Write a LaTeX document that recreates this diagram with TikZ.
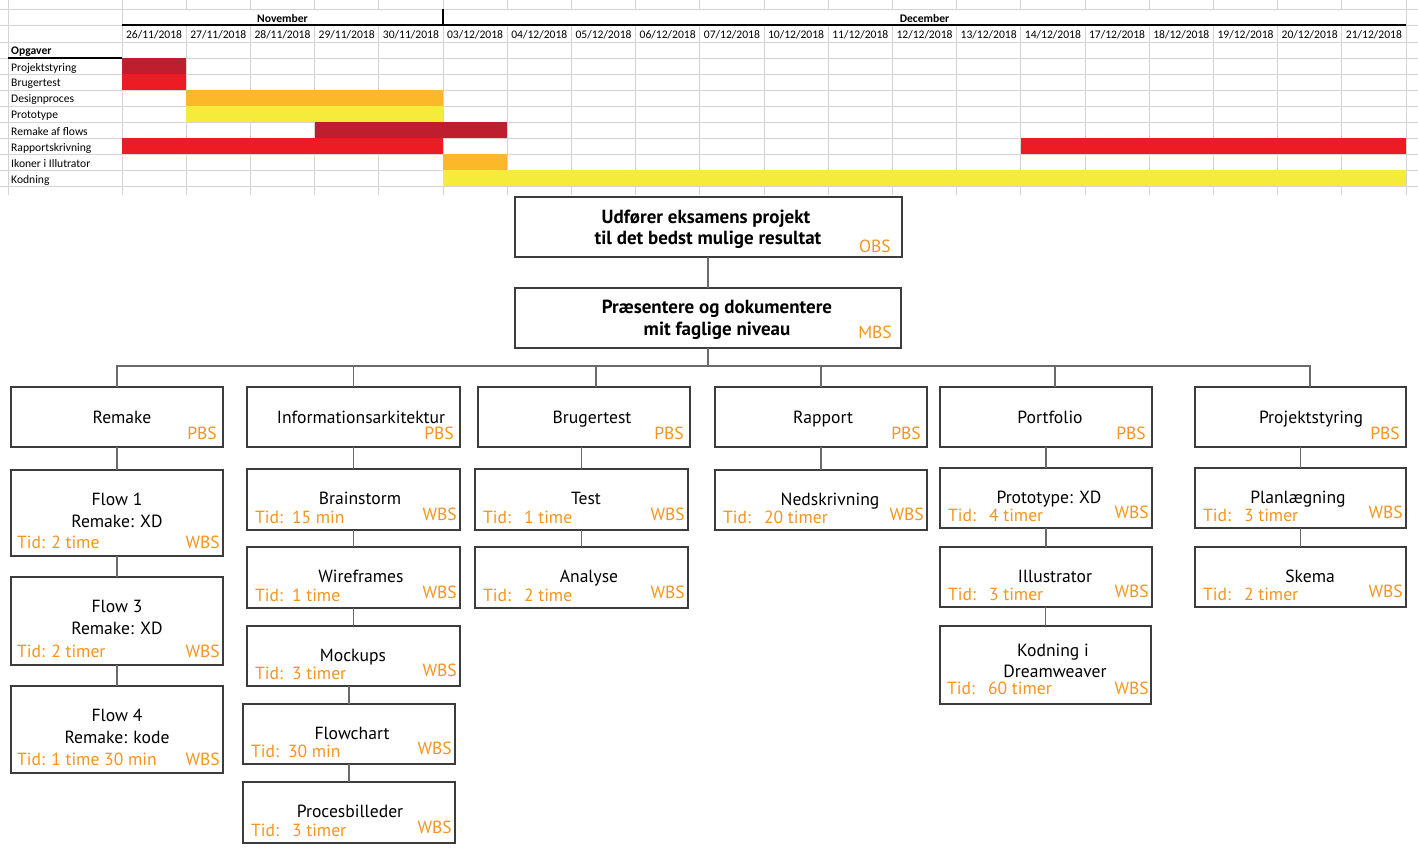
\documentclass[tikz,border=0pt]{standalone}
\usepackage{fontspec}
\setmainfont{PT Sans}
\newfontfamily\gfont{Carlito}
\definecolor{orng}{HTML}{F7941D}
\definecolor{dred}{HTML}{BE1E2D}
\definecolor{bred}{HTML}{ED1C24}
\definecolor{borg}{HTML}{FBB829}
\definecolor{byel}{HTML}{F5EB3B}
\definecolor{gridc}{HTML}{D4D4D4}
\definecolor{boxc}{HTML}{3C3C3C}
\definecolor{conc}{HTML}{6A6A6A}
\tikzset{
  grid line/.style={draw=gridc, line width=0.9pt},
  thick rule/.style={draw=black, line width=1.6pt},
  gtxt/.style={font=\gfont\fontsize{11.6}{13}\selectfont, inner sep=0},
  gbold/.style={font=\gfont\bfseries\fontsize{11.6}{13}\selectfont, inner sep=0},
  bx/.style={draw=boxc, line width=1.2pt, fill=white, inner sep=0, outer sep=0},
  ttl/.style={font=\fontsize{17.6}{20}\selectfont, inner sep=0},
  hd/.style={font=\bfseries\fontsize{19}{22}\selectfont, inner sep=0},
  tag/.style={font=\fontsize{17.6}{20}\selectfont, text=orng, inner sep=0},
  con/.style={draw=conc, line width=1.2pt},
}
\newcommand\gbar[4]{\fill[#4] ({122+#1*64.2},{58+#3*16}) rectangle ({122+#2*64.2},{74+#3*16});}
\newcommand\mkbx[5]{\node[bx, minimum width={#4-#2}, minimum height={#5-#3}] (#1) at ({(#2+#4)/2},{(#3+#5)/2}) {};}
\newcommand\pbx[5]{%
  \mkbx{#1}{#2}{387}{#3}{447}
  \node[ttl,anchor=base] (#1-t) at (#5,423) {#4};
  \node[tag,anchor=base east] (#1-c) at ({#3-6},439) {PBS};}
\newcommand\wbx[8]{%
  \mkbx{#1}{#2}{#3}{#4}{#5}
  \node[ttl,anchor=base] (#1-t) at (#7,{#3+35}) {#6};
  \node[tag,anchor=base west] (#1-d) at ({#2+8},{#5-7}) {#8};
  \node[tag,anchor=base east] (#1-w) at ({#4-3},{#5-10}) {WBS};}
\newcommand\fbx[6]{%
  \mkbx{#1}{11}{#2}{223}{#3}
  \node[ttl,anchor=base] (#1-t) at (117,{#2+35}) {#4};
  \node[ttl,anchor=base] (#1-u) at (117,{#2+57}) {#5};
  \node[tag,anchor=base west] (#1-d) at (17,{#3-8}) {#6};
  \node[tag,anchor=base east] (#1-w) at (220,{#3-8}) {WBS};}
\begin{document}
\begin{tikzpicture}[x=1pt,y=-1pt]
\useasboundingbox (0,0) rectangle (1418,858);
\fill[white] (0,0) rectangle (1418,858);
% ---------------- Gantt grid
\foreach \i in {0,...,20} {
  \draw[grid line] ({122+\i*64.2},0) -- ({122+\i*64.2},9);
  \draw[grid line] ({122+\i*64.2},25) -- ({122+\i*64.2},195);
}
\draw[grid line] (8,0) -- (8,195);
\draw[grid line] (122,9) -- (122,25);
\draw[grid line] (1406,9) -- (1406,25);
\foreach \y in {9,42,58,74,90,106,122,138,154,170,186}
  \draw[grid line] (0,\y) -- (1418,\y);
\draw[grid line] (0,25) -- (122,25);
\draw[grid line] (1406,25) -- (1418,25);
% bars
\gbar{0}{1}{0}{dred}
\gbar{0}{1}{1}{bred}
\gbar{1}{5}{2}{borg}
\gbar{1}{5}{3}{byel}
\gbar{3}{6}{4}{dred}
\gbar{0}{5}{5}{bred}
\gbar{14}{20}{5}{bred}
\gbar{5}{6}{6}{borg}
\gbar{5}{20}{7}{byel}
% rules
\draw[thick rule] (122,25) -- (1406,25);
\draw[thick rule] (443,9) -- (443,25);
\draw[thick rule] (8,58) -- (122,58);
% header text
\node[gbold] (nov) at ({122+2.5*64.2},18) {November};
\node[gbold] (dec) at (924.5,18) {December};
\foreach \d [count=\i from 0] in {26/11,27/11,28/11,29/11,30/11,03/12,04/12,05/12,06/12,07/12,10/12,11/12,12/12,13/12,14/12,17/12,18/12,19/12,20/12,21/12}
  \node[gtxt] (date\i) at ({122+(\i+0.5)*64.2},35) {\d/2018};
\node[gbold,anchor=west] (opg) at (11,51.5) {Opgaver};
\foreach \t [count=\i from 0] in {Projektstyring,Brugertest,Designproces,Prototype,Remake af flows,Rapportskrivning,Ikoner i Illutrator,Kodning}
  \node[gtxt,anchor=west] (task\i) at (11,{68+\i*16}) {\t};
% ---------------- Tree
\mkbx{obs}{515}{197}{902}{257}
\node[hd,anchor=base] (obs-1) at (706,224) {Udfører eksamens projekt};
\node[hd,anchor=base] (obs-2) at (708,245) {til det bedst mulige resultat};
\node[tag,anchor=base east] (obs-c) at (891,253) {OBS};
\mkbx{mbs}{515}{288}{901}{348}
\node[hd,anchor=base] (mbs-1) at (717,314) {Præsentere og dokumentere};
\node[hd,anchor=base] (mbs-2) at (717,335) {mit faglige niveau};
\node[tag,anchor=base east] (mbs-c) at (892,338) {MBS};
% PBS row
\pbx{rem}{11}{223}{Remake}{122}
\pbx{inf}{247}{460}{Informationsarkitektur}{361}
\pbx{bru}{478}{690}{Brugertest}{592}
\pbx{rap}{715}{927}{Rapport}{823}
\pbx{por}{940}{1152}{Portfolio}{1050}
\pbx{pro}{1195}{1406}{Projektstyring}{1311}
% Remake column
\fbx{fa}{470}{556}{Flow 1}{Remake: XD}{Tid: 2 time}
\fbx{fb}{577}{665}{Flow 3}{Remake: XD}{Tid: 2 timer}
\fbx{fc}{686}{773}{Flow 4}{Remake: kode}{Tid: 1 time 30 min}
% Informationsarkitektur column
\wbx{brain}{247}{469}{460}{530}{Brainstorm}{360}{Tid:\hspace{9pt}15 min}
\wbx{wire}{247}{547}{460}{608}{Wireframes}{361}{Tid:\hspace{9pt}1 time}
\wbx{mock}{247}{626}{460}{686}{Mockups}{353}{Tid:\hspace{9pt}3 timer}
\wbx{flowc}{243}{704}{455}{764}{Flowchart}{352}{Tid:\hspace{9pt}30 min}
\wbx{proc}{243}{782}{455}{843}{Procesbilleder}{350}{Tid:\hspace{13pt}3 timer}
% Brugertest column
\wbx{test}{475}{469}{688}{530}{Test}{586}{Tid:\hspace{13pt}1 time}
\wbx{anal}{475}{547}{688}{608}{Analyse}{589}{Tid:\hspace{13pt}2 time}
% Rapport column
\wbx{ned}{715}{470}{927}{530}{Nedskrivning}{830}{Tid:\hspace{13pt}20 timer}
% Portfolio column
\wbx{proto}{940}{468}{1152}{528}{Prototype: XD}{1049}{Tid:\hspace{13pt}4 timer}
\wbx{illu}{940}{547}{1152}{607}{Illustrator}{1055}{Tid:\hspace{13pt}3 timer}
\mkbx{kod}{940}{626}{1151}{704}
\node[ttl,anchor=base] (kod-t) at (1053,656) {Kodning i};
\node[ttl,anchor=base] (kod-u) at (1055,677) {Dreamweaver};
\node[tag,anchor=base west] (kod-d) at (947,694) {Tid:\hspace{13pt}60 timer};
\node[tag,anchor=base east] (kod-w) at (1149,694) {WBS};
% Projektstyring column
\wbx{plan}{1195}{468}{1406}{528}{Planlægning}{1298}{Tid:\hspace{13pt}3 timer}
\wbx{skema}{1195}{547}{1406}{607}{Skema}{1310}{Tid:\hspace{13pt}2 timer}
% ---------------- connectors
\coordinate (hb) at (0,366);
\coordinate (bruT) at ([xshift=12pt]bru.north);
\coordinate (porT) at ([xshift=9pt]por.north);
\coordinate (proT) at ([xshift=9.5pt]pro.north);
\draw[con] (mbs.north) -- (mbs.north |- obs.south);
\draw[con] (mbs.south) -- (mbs.south |- hb);
\draw[con] (rem.north) -- (rem.north |- hb) -- (proT |- hb) -- (proT);
\draw[con] (inf.north) -- (inf.north |- hb);
\draw[con] (bruT) -- (bruT |- hb);
\draw[con] (rap.north) -- (rap.north |- hb);
\draw[con] (porT) -- (porT |- hb);
\draw[con] (fa.north) -- (fa.north |- rem.south);
\draw[con] (fb.north) -- (fb.north |- fa.south);
\draw[con] (fc.north) -- (fc.north |- fb.south);
\draw[con] (brain.north) -- (brain.north |- inf.south);
\draw[con] (wire.north) -- (wire.north |- brain.south);
\draw[con] (mock.north) -- (mock.north |- wire.south);
\draw[con] (flowc.north) -- (flowc.north |- mock.south);
\draw[con] (proc.north) -- (proc.north |- flowc.south);
\draw[con] (test.north) -- (test.north |- bru.south);
\draw[con] (anal.north) -- (anal.north |- test.south);
\draw[con] (ned.north) -- (ned.north |- rap.south);
\draw[con] (proto.north) -- (proto.north |- por.south);
\draw[con] (illu.north) -- (illu.north |- proto.south);
\draw[con] (kod.north) -- (kod.north |- illu.south);
\draw[con] (plan.north) -- (plan.north |- pro.south);
\draw[con] (skema.north) -- (skema.north |- plan.south);
\end{tikzpicture}
\end{document}
